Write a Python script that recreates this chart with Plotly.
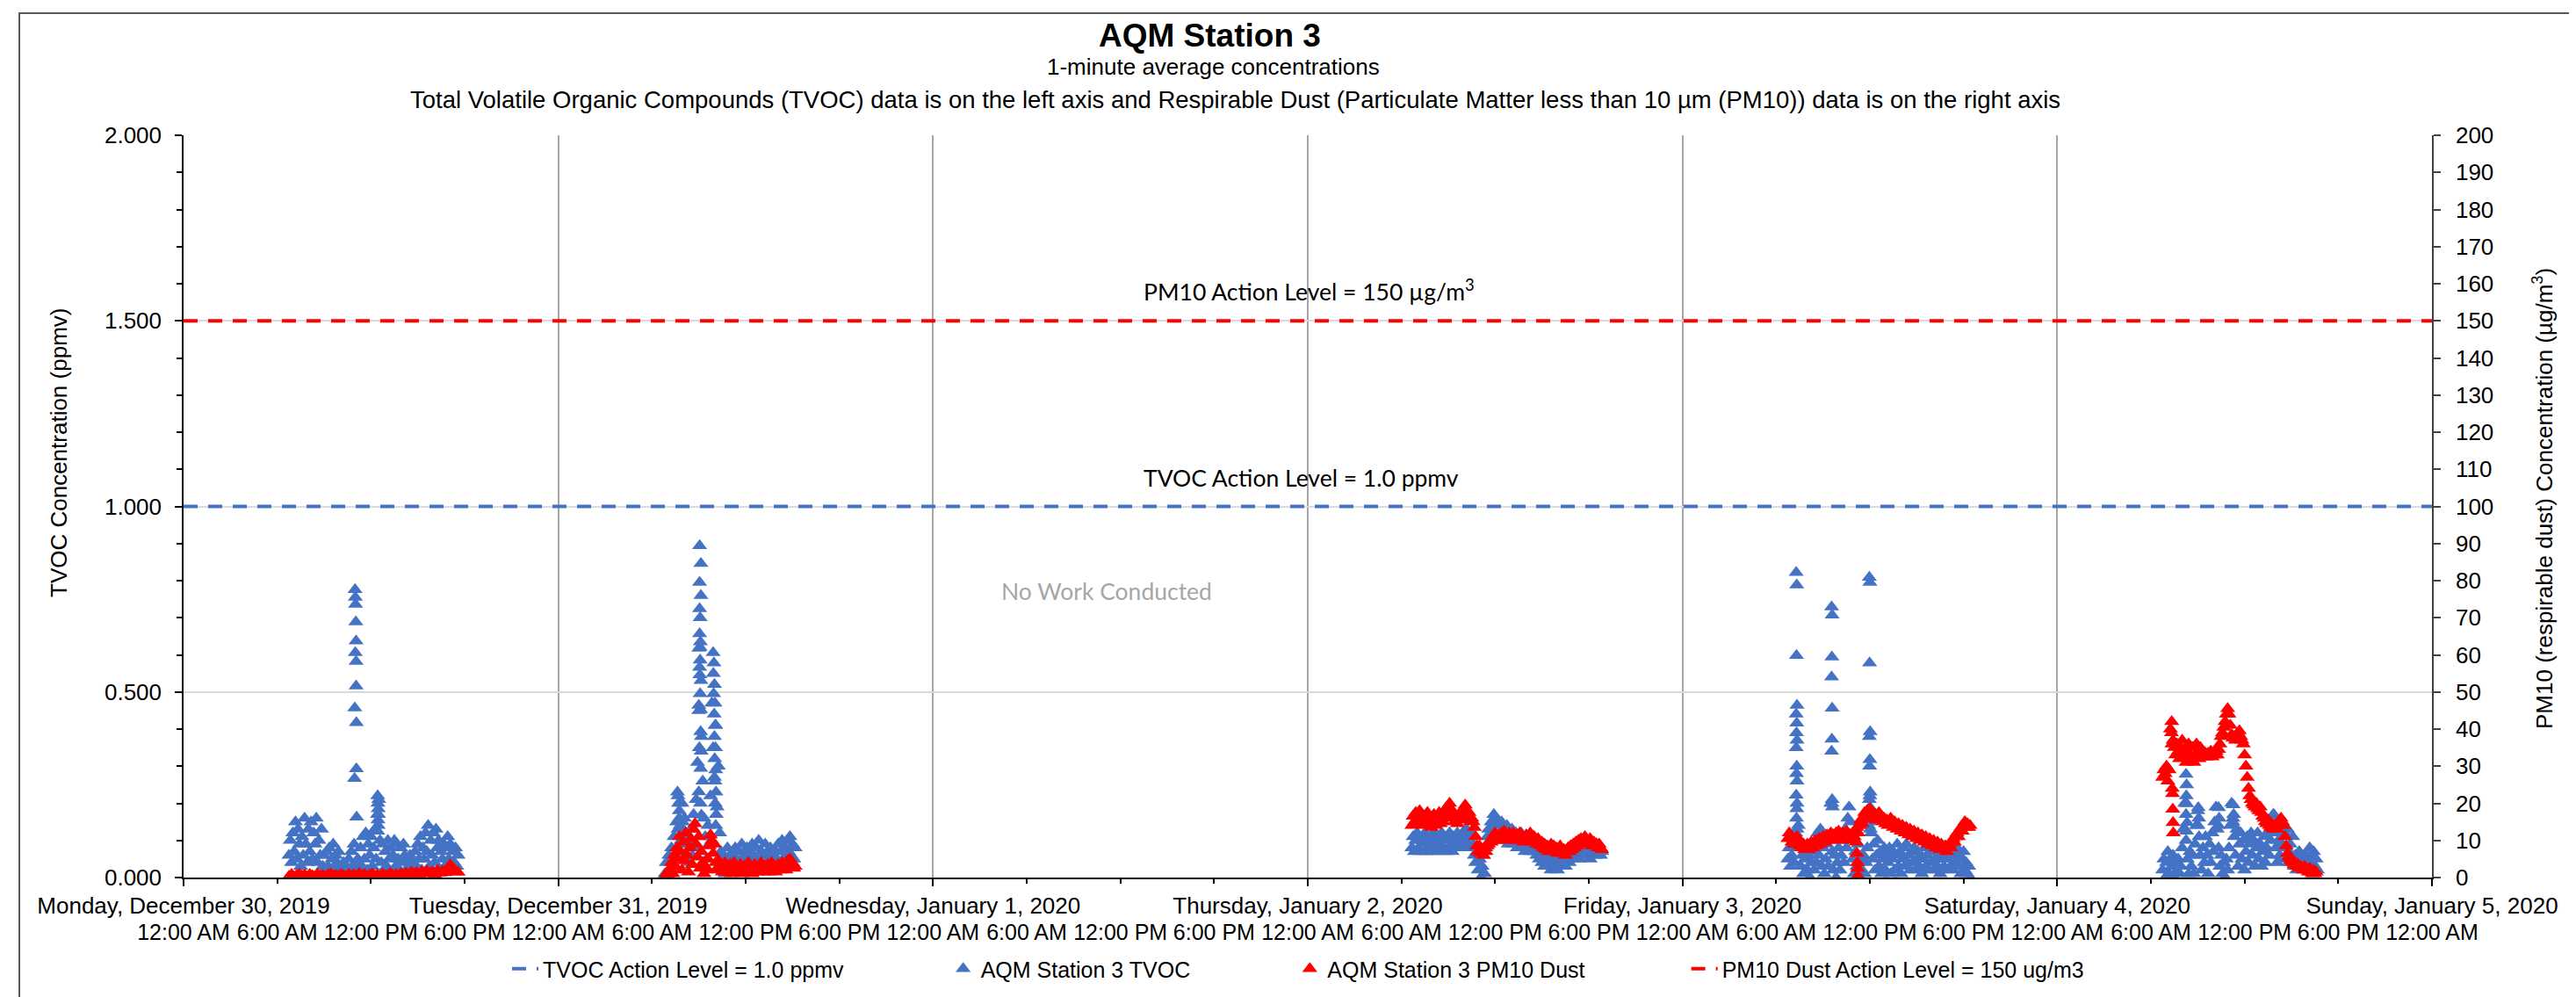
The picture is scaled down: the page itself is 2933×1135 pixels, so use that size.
import pandas as pd
import plotly.graph_objects as go

# ---------------- labels ----------------
day_ticks = ["2019-12-30", "2019-12-31", "2020-01-01", "2020-01-02",
             "2020-01-03", "2020-01-04", "2020-01-05"]
day_labels = ["Monday, December 30, 2019", "Tuesday, December 31, 2019",
              "Wednesday, January 1, 2020", "Thursday, January 2, 2020",
              "Friday, January 3, 2020", "Saturday, January 4, 2020",
              "Sunday, January 5, 2020"]
time_labels = ["12:00 AM", "6:00 AM", "12:00 PM", "6:00 PM"]

tvoc_action_level = 1.0
pm10_action_level = 150

# ---------------- TVOC (ppmv), 5-minute readings ----------------
tvoc_d1_start = "2019-12-30 06:45"
tvoc_d1 = [0.06, 0.10, 0.04, 0.12, 0.07, 0.15, 0.05, 0.13, 0.09, 0.03, 0.11, 0.06,
           0.16, 0.09, 0.04, 0.13, 0.07, 0.15, 0.05, 0.12, 0.09, 0.16, 0.04, 0.10,
           0.06, 0.13, 0.03, 0.06, 0.02, 0.07, 0.03, 0.08, 0.01, 0.05, 0.09, 0.02,
           0.06, 0.04, 0.07, 0.01, 0.03, 0.02, 0.04, 0.01, 0.03, 0.00, 0.05, 0.02,
           0.07, 0.03, 0.09, 0.04, 0.01, 0.05, 0.02, 0.08, 0.03, 0.11, 0.05, 0.12,
           0.02, 0.09, 0.06, 0.11, 0.03, 0.08, 0.13, 0.05, 0.17, 0.21, 0.10, 0.04,
           0.09, 0.02, 0.07, 0.03, 0.10, 0.05, 0.08, 0.01, 0.06, 0.10, 0.03, 0.09,
           0.05, 0.02, 0.08, 0.04, 0.09, 0.06, 0.01, 0.05, 0.03, 0.06, 0.01, 0.04,
           0.02, 0.07, 0.03, 0.09, 0.05, 0.11, 0.02, 0.08, 0.05, 0.12, 0.07, 0.14,
           0.03, 0.10, 0.06, 0.12, 0.04, 0.13, 0.08, 0.10, 0.02, 0.07, 0.05, 0.09,
           0.03, 0.08, 0.11, 0.05, 0.09, 0.02, 0.07, 0.04, 0.08, 0.03, 0.06]

tvoc_d2_start = "2019-12-31 06:50"
tvoc_d2 = [0.01, 0.04, 0.00, 0.06, 0.02, 0.08, 0.03, 0.11, 0.05, 0.15, 0.22, 0.18,
           0.09, 0.20, 0.12, 0.16, 0.06, 0.11, 0.04, 0.09, 0.13, 0.06, 0.17, 0.08,
           0.21, 0.31, 0.45, 0.62, 0.38, 0.26, 0.16, 0.11, 0.05, 0.14, 0.09, 0.22,
           0.47, 0.35, 0.27, 0.41, 0.19, 0.30, 0.12, 0.07, 0.03, 0.06, 0.01, 0.05,
           0.08, 0.02, 0.06, 0.04, 0.07, 0.03, 0.08, 0.05, 0.02, 0.07, 0.04, 0.09,
           0.03, 0.06, 0.05, 0.08, 0.03, 0.07, 0.04, 0.09, 0.06, 0.03, 0.08, 0.05,
           0.10, 0.04, 0.07, 0.03, 0.06, 0.09, 0.04, 0.07, 0.05, 0.08, 0.03, 0.06,
           0.04, 0.07, 0.05, 0.09, 0.04, 0.07, 0.10, 0.05, 0.08, 0.06, 0.10, 0.07,
           0.11, 0.06, 0.09, 0.05, 0.08]

tvoc_d4_start = "2020-01-02 06:40"
tvoc_d4 = [0.08, 0.11, 0.07, 0.10, 0.12, 0.08, 0.10, 0.07, 0.11, 0.09, 0.12, 0.07,
           0.10, 0.08, 0.11, 0.07, 0.09, 0.12, 0.08, 0.10, 0.07, 0.11, 0.09, 0.12,
           0.08, 0.10, 0.07, 0.11, 0.08, 0.12, 0.09, 0.07, 0.11, 0.08, 0.10, 0.12,
           0.08, 0.11, 0.09, 0.12, 0.08, 0.10, 0.13, 0.09, 0.11, 0.08, 0.12, 0.09,
           0.06, 0.04, 0.07, 0.02, 0.05, 0.00, 0.03, 0.06, 0.01, 0.08, 0.11, 0.13,
           0.10, 0.15, 0.12, 0.17, 0.14, 0.16, 0.11, 0.14, 0.12, 0.15, 0.10, 0.13,
           0.11, 0.14, 0.09, 0.12, 0.10, 0.13, 0.09, 0.11, 0.12, 0.08, 0.11, 0.09,
           0.12, 0.08, 0.10, 0.07, 0.11, 0.08, 0.10, 0.07, 0.09, 0.11, 0.07, 0.09,
           0.06, 0.08, 0.05, 0.07, 0.04, 0.06, 0.03, 0.05, 0.07, 0.03, 0.05, 0.02,
           0.06, 0.04, 0.03, 0.06, 0.02, 0.05, 0.03, 0.06, 0.04, 0.07, 0.03, 0.05,
           0.07, 0.04, 0.06, 0.08, 0.05, 0.07, 0.09, 0.06, 0.08, 0.05, 0.07, 0.09,
           0.06, 0.08, 0.10, 0.06, 0.08, 0.05, 0.09, 0.07, 0.08, 0.06, 0.09, 0.07,
           0.08, 0.06, 0.07]

tvoc_d5_start = "2020-01-03 06:45"
tvoc_d5 = [0.05, 0.08, 0.03, 0.06, 0.09, 0.04, 0.12, 0.20, 0.14, 0.08, 0.03, 0.06,
           0.01, 0.05, 0.08, 0.02, 0.06, 0.00, 0.04, 0.07, 0.02, 0.09, 0.04, 0.12,
           0.06, 0.13, 0.03, 0.08, 0.01, 0.05, 0.09, 0.03, 0.11, 0.20, 0.07, 0.02,
           0.06, 0.00, 0.04, 0.08, 0.02, 0.06, 0.10, 0.04, 0.13, 0.08, 0.16, 0.19,
           0.15, 0.10, 0.05, 0.01, 0.07, 0.03, 0.09, 0.00, 0.05, 0.02, 0.06, 0.01,
           0.04, 0.08, 0.14, 0.22, 0.12, 0.05, 0.09, 0.02, 0.06, 0.10, 0.03, 0.07,
           0.01, 0.05, 0.08, 0.02, 0.06, 0.04, 0.08, 0.01, 0.05, 0.07, 0.02, 0.06,
           0.09, 0.03, 0.07, 0.01, 0.05, 0.08, 0.03, 0.09, 0.04, 0.06, 0.02, 0.07,
           0.04, 0.08, 0.02, 0.05, 0.07, 0.03, 0.06, 0.01, 0.05, 0.08, 0.03, 0.06,
           0.02, 0.07, 0.04, 0.08, 0.02, 0.05, 0.07, 0.03, 0.06, 0.01, 0.05, 0.08,
           0.03, 0.06, 0.02, 0.05, 0.08, 0.03, 0.06, 0.02, 0.07, 0.04, 0.08, 0.03,
           0.06, 0.01, 0.05, 0.07, 0.02, 0.04, 0.01, 0.03, 0.00]

tvoc_d6_start = "2020-01-04 06:45"
tvoc_d6 = [0.02, 0.05, 0.00, 0.04, 0.07, 0.01, 0.05, 0.03, 0.06, 0.00, 0.04, 0.02,
           0.05, 0.01, 0.03, 0.08, 0.13, 0.20, 0.10, 0.05, 0.01, 0.07, 0.03, 0.06,
           0.01, 0.09, 0.14, 0.18, 0.11, 0.06, 0.02, 0.08, 0.04, 0.11, 0.06, 0.01,
           0.09, 0.04, 0.12, 0.07, 0.15, 0.19, 0.13, 0.08, 0.03, 0.06, 0.01, 0.04,
           0.00, 0.05, 0.02, 0.08, 0.14, 0.20, 0.16, 0.11, 0.06, 0.13, 0.03, 0.09,
           0.12, 0.05, 0.10, 0.02, 0.07, 0.11, 0.04, 0.09, 0.12, 0.06, 0.10, 0.03,
           0.08, 0.12, 0.05, 0.09, 0.03, 0.07, 0.11, 0.04, 0.08, 0.12, 0.06, 0.10,
           0.14, 0.17, 0.12, 0.08, 0.04, 0.10, 0.06, 0.13, 0.09, 0.05, 0.12, 0.08,
           0.13, 0.04, 0.09, 0.06, 0.11, 0.03, 0.06, 0.02, 0.05, 0.07, 0.03, 0.05,
           0.02, 0.04, 0.06, 0.03, 0.05, 0.08, 0.06, 0.04, 0.07, 0.03, 0.05, 0.02]

# isolated TVOC readings (spikes / columns)
tvoc_extra_t = ["2019-12-30 10:59", "2019-12-30 11:00", "2019-12-30 11:01", "2019-12-30 11:02",
                "2019-12-30 11:03", "2019-12-30 11:00", "2019-12-30 11:03", "2019-12-30 11:03",
                "2019-12-30 10:58", "2019-12-30 11:04", "2019-12-30 11:04", "2019-12-30 10:57",
                "2019-12-30 11:05",
                "2019-12-30 12:26", "2019-12-30 12:27", "2019-12-30 12:28", "2019-12-30 12:29",
                "2019-12-30 12:27", "2019-12-30 12:28", "2019-12-30 12:26",
                "2019-12-31 07:38", "2019-12-31 07:42", "2019-12-31 07:45", "2019-12-31 07:40",
                "2019-12-31 07:48", "2019-12-31 07:52", "2019-12-31 07:36", "2019-12-31 07:58",
                "2019-12-31 09:03", "2019-12-31 09:08", "2019-12-31 09:03", "2019-12-31 09:08",
                "2019-12-31 09:03", "2019-12-31 09:05", "2019-12-31 09:03", "2019-12-31 09:06",
                "2019-12-31 09:00", "2019-12-31 09:05", "2019-12-31 09:03", "2019-12-31 09:04",
                "2019-12-31 09:08", "2019-12-31 09:05", "2019-12-31 09:00", "2019-12-31 09:07",
                "2019-12-31 09:07", "2019-12-31 09:07", "2019-12-31 09:00", "2019-12-31 09:06",
                "2019-12-31 09:10", "2019-12-31 09:02", "2019-12-31 09:09",
                "2019-12-31 09:55", "2019-12-31 09:58", "2019-12-31 09:56", "2019-12-31 10:00",
                "2019-12-31 09:57", "2019-12-31 10:02", "2019-12-31 09:59", "2019-12-31 10:03",
                "2019-12-31 10:00", "2019-12-31 10:04", "2019-12-31 10:01", "2019-12-31 10:05",
                "2019-12-31 10:02", "2019-12-31 10:06", "2019-12-31 10:03", "2019-12-31 10:07",
                "2019-12-31 10:05",
                "2020-01-03 07:17", "2020-01-03 07:19", "2020-01-03 07:18", "2020-01-03 07:20",
                "2020-01-03 07:17", "2020-01-03 07:19", "2020-01-03 07:18", "2020-01-03 07:20",
                "2020-01-03 07:17", "2020-01-03 07:19", "2020-01-03 07:18", "2020-01-03 07:20",
                "2020-01-03 07:17", "2020-01-03 07:19", "2020-01-03 07:18", "2020-01-03 07:20",
                "2020-01-03 09:33", "2020-01-03 09:35", "2020-01-03 09:34", "2020-01-03 09:33",
                "2020-01-03 09:35", "2020-01-03 09:34", "2020-01-03 09:33", "2020-01-03 09:35",
                "2020-01-03 09:34", "2020-01-03 09:36",
                "2020-01-03 11:58", "2020-01-03 12:00", "2020-01-03 11:59", "2020-01-03 12:01",
                "2020-01-03 11:58", "2020-01-03 12:00", "2020-01-03 11:59", "2020-01-03 12:01",
                "2020-01-03 11:58", "2020-01-03 12:00", "2020-01-03 11:59", "2020-01-03 12:01",
                "2020-01-03 12:02",
                "2020-01-04 08:15", "2020-01-04 08:17", "2020-01-04 08:16", "2020-01-04 08:18",
                "2020-01-04 08:15", "2020-01-04 08:19", "2020-01-04 08:17",
                "2020-01-04 09:02", "2020-01-04 09:04", "2020-01-04 09:01",
                "2020-01-04 10:20", "2020-01-04 10:22", "2020-01-04 10:19",
                "2020-01-04 11:16", "2020-01-04 11:18", "2020-01-04 11:15",
                "2020-01-04 13:54", "2020-01-04 13:56"]
tvoc_extra_v = [0.776, 0.755, 0.736, 0.689, 0.637, 0.606, 0.582, 0.516, 0.457, 0.417, 0.293, 0.267,
                0.163,
                0.22, 0.20, 0.185, 0.17, 0.155, 0.14, 0.125,
                0.23, 0.20, 0.16, 0.13, 0.14, 0.10, 0.07, 0.15,
                0.894, 0.846, 0.795, 0.760, 0.724, 0.700, 0.657, 0.635, 0.618, 0.586, 0.566, 0.546,
                0.531, 0.495, 0.464, 0.452, 0.393, 0.294, 0.231, 0.200, 0.168, 0.350, 0.340,
                0.606, 0.578, 0.550, 0.520, 0.495, 0.470, 0.440, 0.410, 0.380, 0.350, 0.320, 0.290,
                0.260, 0.230, 0.200, 0.170, 0.140,
                0.822, 0.788, 0.598, 0.464, 0.440, 0.416, 0.390, 0.370, 0.350, 0.300, 0.280, 0.260,
                0.222, 0.185, 0.160, 0.130,
                0.729, 0.707, 0.594, 0.540, 0.456, 0.373, 0.340, 0.210, 0.200, 0.190,
                0.809, 0.795, 0.578, 0.393, 0.380, 0.318, 0.300, 0.230, 0.210, 0.190, 0.170, 0.150,
                0.130,
                0.278, 0.250, 0.220, 0.199, 0.170, 0.148, 0.125,
                0.188, 0.160, 0.140,
                0.188, 0.160, 0.140,
                0.196, 0.170, 0.150,
                0.168, 0.145]

# ---------------- PM10 (ug/m3) ----------------
pm_d1_start, pm_d1_step = "2019-12-30 06:45", 10
pm_d1 = [0.3, 0.8, 0.2, 0.6, 0.9, 0.4, 0.7, 0.2, 0.8, 0.5, 0.3, 0.9, 0.4, 0.6, 0.2, 0.7,
         1.0, 0.4, 0.6, 0.3, 0.8, 0.5, 0.2, 0.9, 0.4, 0.7, 0.3, 1.1, 0.5, 0.8, 0.3, 0.6,
         1.0, 0.4, 0.7, 0.3, 0.9, 0.5, 0.6, 1.1, 0.4, 0.8, 0.5, 1.0, 0.6, 1.2, 0.7, 1.4,
         0.9, 1.3, 0.8, 1.6, 1.0, 1.8, 1.1, 1.5, 0.9, 1.9, 1.2, 1.7, 1.3, 2.3, 3.4, 2.6,
         1.8, 1.4]

pm_d2_start, pm_d2_step = "2019-12-31 06:50", 5
pm_d2 = [0.2, 0.8, 1.5, 0.5, 2.5, 4.0, 1.0, 6.0, 3.0, 8.0, 5.0, 11.0, 7.0, 2.0, 9.5, 4.5,
         12.0, 6.0, 1.5, 8.0, 10.5, 3.5, 13.0, 14.5, 9.0, 5.5, 11.0, 2.5, 7.0, 4.0, 1.0, 3.0,
         2.0, 5.0, 8.5, 11.5, 10.0, 6.5, 9.0, 4.0, 2.5, 4.5, 2.0, 3.5, 1.5, 2.5, 4.0, 1.5,
         3.0, 2.0, 3.5, 1.0, 2.5, 4.0, 2.0, 3.0, 1.5, 2.5, 3.5, 1.0, 2.0, 3.0, 1.5, 2.5,
         4.0, 2.0, 3.0, 1.0, 2.5, 3.5, 2.0, 1.5, 3.0, 2.5, 4.0, 1.5, 2.5, 3.0, 2.0, 3.5,
         1.5, 2.5, 4.0, 2.0, 3.0, 1.5, 2.5, 3.5, 2.0, 3.0, 4.0, 2.5, 3.5, 2.0, 4.5, 3.0,
         5.0, 3.5, 4.0, 2.5, 3.0]

pm_d4_start, pm_d4_step = "2020-01-02 06:40", 5
pm_d4 = [14, 16.5, 15, 17.5, 14.5, 16, 18, 15, 17, 14, 16.5, 15, 17.5, 14.5, 16, 13.5,
         15.5, 17, 14, 16, 15, 17.5, 14.5, 16.5, 15, 18, 16, 19, 17, 20, 18.5, 16,
         17.5, 15, 16.5, 14.5, 17, 15.5, 16, 18, 17, 19.5, 18, 16.5, 17.5, 15, 16, 15,
         13.5, 11, 8.5, 7, 8.5, 6.5, 7.5, 6, 8, 7, 8.5, 9, 10, 9.5, 11, 10,
         12, 11, 10, 11.5, 10.5, 12, 11, 12.5, 10.5, 11.5, 10, 12, 11, 10.5, 12, 11,
         10, 11.5, 10.5, 12, 10, 11, 9.5, 10.5, 11.5, 10, 11, 12, 10.5, 9.5, 11, 10,
         9, 10.5, 9.5, 8.5, 9.5, 8, 9, 7.5, 8.5, 7, 8, 9, 7.5, 8.5, 7, 8,
         6.5, 7.5, 8.5, 7, 6.5, 7.5, 6, 7, 8, 7, 8.5, 7.5, 9, 8, 9.5, 8.5,
         10, 9, 10.5, 9.5, 10, 11, 9.5, 10, 9, 10.5, 9.5, 8.5, 9.5, 8.5, 9, 8,
         9, 8, 7.5]

pm_d5_start, pm_d5_step = "2020-01-03 06:45", 5
pm_d5 = [10.5, 12, 11, 9.5, 10.5, 9, 10, 11, 9.5, 8.5, 9.5, 8, 9, 7.5, 8.5, 9,
         7.5, 8.5, 9.5, 8, 9, 10, 8.5, 9.5, 10.5, 9, 10, 11, 9.5, 10.5, 11.5, 10,
         11, 12, 10.5, 11.5, 10, 12, 11, 12.5, 10.5, 11.5, 12, 10.5, 11, 12.5, 11, 10,
         11.5, 10.5, 12, 11, 12.5, 13.5, 12, 14, 15.5, 14.5, 16, 17.5, 16, 18, 17, 18.5,
         16.5, 17.5, 16, 17, 15.5, 16.5, 17.5, 15.5, 16.5, 15, 16, 14.5, 15.5, 14, 15, 16,
         14.5, 13.5, 15, 14, 13, 14.5, 13.5, 12.5, 14, 13, 12, 13.5, 12.5, 11.5, 13, 12,
         11, 12.5, 11.5, 10.5, 12, 11, 10, 11.5, 10.5, 9.5, 11, 10, 9, 10.5, 9.5, 8.5,
         10, 9, 8, 9.5, 8.5, 7.5, 9, 8, 7.5, 8.5, 7, 8, 9, 8, 9.5, 10.5,
         9.5, 11, 12, 11, 12.5, 13.5, 12.5, 14, 15, 13.5, 14.5, 13.5, 14]

pm_d6_start, pm_d6_step = "2020-01-04 06:45", 5
pm_d6 = [27, 29, 28, 30, 26, 29, 40, 42, 37, 35, 33, 36, 34, 32, 35, 37,
         34, 33, 31, 34, 36, 33, 32, 35, 31, 33, 36, 34, 32, 35, 33, 34,
         32.5, 33.5, 32.5, 33.5, 33, 34, 32.5, 33.5, 33, 34, 33, 34.5, 36, 38,
         39, 40.5, 42, 44, 45.5, 44, 41, 38.5, 37.5, 38, 37, 38.5, 39, 39.5,
         38, 37, 36, 33, 30, 27, 24, 22, 21, 20, 19.5, 19, 20, 18.5, 18, 19,
         17.5, 16.5, 16, 15, 14.5, 15.5, 14, 13.5, 14.5, 13, 13.5, 14, 13, 14.5,
         15.5, 16, 15, 14, 11, 8.5, 6.5, 5.5, 5, 4.5, 4, 3.5, 4, 3, 3.5, 2.5,
         3, 2.5, 2, 3, 2.5, 2, 1.5, 2.5, 1.5, 1, 2, 1, 1.5]

pm_extra_t = ["2020-01-03 11:08", "2020-01-03 11:10", "2020-01-03 11:12", "2020-01-03 11:13",
              "2020-01-03 11:14",
              "2020-01-04 07:22", "2020-01-04 07:23", "2020-01-04 07:24", "2020-01-04 07:25",
              "2020-01-04 07:26", "2020-01-04 07:19", "2020-01-04 07:21"]
pm_extra_v = [9.5, 6.5, 4.0, 2.5, 0.5,
              24.0, 22.6, 18.4, 14.8, 12.0, 39.0, 36.0]


# ---------------- build series ----------------
def expand(start, step, vals):
    return list(pd.date_range(start, periods=len(vals), freq=f"{step}min")), list(vals)


tvoc_x, tvoc_y = [], []
for s, v in [(tvoc_d1_start, tvoc_d1), (tvoc_d2_start, tvoc_d2), (tvoc_d4_start, tvoc_d4),
             (tvoc_d5_start, tvoc_d5), (tvoc_d6_start, tvoc_d6)]:
    xs, ys = expand(s, 5, v)
    tvoc_x += xs
    tvoc_y += ys
tvoc_x += list(pd.to_datetime(tvoc_extra_t))
tvoc_y += tvoc_extra_v

pm_x, pm_y = [], []
for s, st, v in [(pm_d1_start, pm_d1_step, pm_d1), (pm_d2_start, pm_d2_step, pm_d2),
                 (pm_d4_start, pm_d4_step, pm_d4), (pm_d5_start, pm_d5_step, pm_d5),
                 (pm_d6_start, pm_d6_step, pm_d6)]:
    xs, ys = expand(s, st, v)
    pm_x += xs
    pm_y += ys
pm_x += list(pd.to_datetime(pm_extra_t))
pm_y += pm_extra_v

x_range = [day_ticks[0], day_ticks[-1]]
six_hour_ticks = list(pd.date_range(day_ticks[0], day_ticks[-1], freq="6h"))
six_hour_text = [time_labels[i % 4] for i in range(len(six_hour_ticks))]

BLUE = "#4472C4"
RED = "#FF0000"
FONT = "Arial, Liberation Sans, sans-serif"
CAL = "Lato, Carlito, Calibri, sans-serif"
PAD = "\u00a0" * 16
MSIZE = 15

fig = go.Figure()
fig.add_trace(go.Scatter(
    x=x_range, y=[tvoc_action_level] * 2, mode="lines", xaxis="x2", yaxis="y",
    line=dict(color=BLUE, width=4, dash="16px,12px"),
    name="TVOC Action Level = 1.0 ppmv" + PAD))
fig.add_trace(go.Scatter(
    x=tvoc_x, y=tvoc_y, mode="markers", xaxis="x", yaxis="y",
    marker=dict(symbol="triangle-up", size=MSIZE, color=BLUE, line=dict(width=0)),
    name="AQM Station 3 TVOC" + PAD))
fig.add_trace(go.Scatter(
    x=pm_x, y=pm_y, mode="markers", xaxis="x", yaxis="y2",
    marker=dict(symbol="triangle-up", size=MSIZE, color=RED, line=dict(width=0)),
    name="AQM Station 3 PM10 Dust" + PAD))
fig.add_trace(go.Scatter(
    x=x_range, y=[pm10_action_level] * 2, mode="lines", xaxis="x2", yaxis="y2",
    line=dict(color=RED, width=4, dash="16px,12px"),
    name="PM10 Dust Action Level = 150 ug/m3"))

W, H = 2933, 1135
L, R, T, B = 201, 2761, 146, 991


def px(x):
    return (x - L) / (R - L)


def py(y):
    return (B - y) / (B - T)


fig.update_layout(
    width=W, height=H,
    margin=dict(l=L, r=W - R, t=T, b=H - B, pad=0),
    paper_bgcolor="white", plot_bgcolor="white",
    font=dict(family=FONT, size=25, color="black"),
    showlegend=True,
    legend=dict(orientation="h", x=px(570), xanchor="left", y=py(1095), yanchor="middle",
                font=dict(family=FONT, size=25, color="black"), bgcolor="rgba(0,0,0,0)",
                traceorder="normal"),
    xaxis=dict(
        type="date", range=x_range, tickmode="array", tickvals=day_ticks, ticktext=day_labels,
        tickangle=0, ticks="outside", ticklen=8, tickwidth=1.5, tickcolor="black",
        showgrid=True, gridcolor="#A6A6A6", gridwidth=1.5,
        showline=True, linecolor="black", linewidth=2, zeroline=False,
        tickfont=dict(family=FONT, size=26), ticklabelstandoff=0),
    xaxis2=dict(
        type="date", overlaying="x", matches="x", side="bottom", anchor="y",
        range=x_range, tickmode="array", tickvals=six_hour_ticks, ticktext=six_hour_text,
        tickangle=0, ticks="outside", ticklen=6, tickwidth=1.5, tickcolor="black",
        showgrid=False, showline=False, zeroline=False,
        tickfont=dict(family=FONT, size=25), ticklabelstandoff=34),
    yaxis=dict(
        range=[0, 2], tick0=0, dtick=0.5, tickformat=".3f",
        ticks="outside", ticklen=8, tickwidth=1.5, tickcolor="black",
        minor=dict(dtick=0.1, ticks="outside", ticklen=6, tickcolor="black", tickwidth=1.5,
                   showgrid=False),
        showgrid=True, gridcolor="#D9D9D9", gridwidth=1.5,
        showline=True, linecolor="black", linewidth=1.5, zeroline=False,
        tickfont=dict(family=FONT, size=26), ticklabelstandoff=10),
    yaxis2=dict(
        range=[0, 200], tick0=0, dtick=10, overlaying="y", side="right", anchor="x",
        ticks="outside", ticklen=8, tickwidth=1.5, tickcolor="#404040",
        showgrid=False, showline=True, linecolor="#404040", linewidth=1.5, zeroline=False,
        tickfont=dict(family=FONT, size=26), ticklabelstandoff=12),
)

ann = [
    dict(text="<b>AQM Station 3</b>", x=px(1369), y=py(33), font=dict(family=FONT, size=37)),
    dict(text="1-minute average concentrations", x=px(1373), y=py(68),
         font=dict(family=FONT, size=26)),
    dict(text="Total Volatile Organic Compounds (TVOC) data is on the left axis and Respirable Dust "
              "(Particulate Matter less than 10 \u00b5m (PM10)) data is on the right axis",
         x=px(1398), y=py(106), font=dict(family=FONT, size=27.5)),
    dict(text="TVOC Concentration (ppmv)", x=px(59), y=py(508), textangle=-90,
         font=dict(family=FONT, size=26)),
    dict(text="PM10 (respirable dust) Concentration (\u00b5g/m<sup>3</sup>)", x=px(2887), y=py(560),
         textangle=-90, font=dict(family=FONT, size=26)),
    dict(text="PM10 Action Level = 150 \u00b5g/m<sup>3</sup>", x=px(1292), y=py(322), xanchor="left",
         font=dict(family=CAL, size=26.5)),
    dict(text="TVOC Action Level = 1.0 ppmv", x=px(1292), y=py(536), xanchor="left",
         font=dict(family=CAL, size=26.5)),
    dict(text="No Work Conducted", x=px(1130), y=py(665), xanchor="left",
         font=dict(family=CAL, size=26.5, color="#A6A6A6")),
]
for a in ann:
    a.setdefault("xanchor", "center")
    a.update(xref="paper", yref="paper", yanchor="middle", showarrow=False)
    fig.add_annotation(**a)

fig.add_shape(type="rect", xref="paper", yref="paper",
              x0=px(14), x1=px(2925), y0=py(1133), y1=py(7),
              line=dict(color="#595959", width=2), fillcolor="rgba(0,0,0,0)", layer="above")

fig.write_html("out.html")
